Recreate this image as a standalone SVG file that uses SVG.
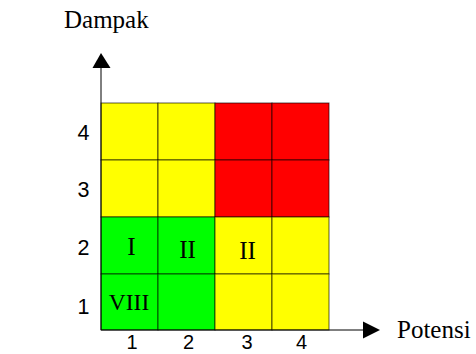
<svg xmlns="http://www.w3.org/2000/svg" width="476" height="354" viewBox="0 0 476 354">
<style>
.y{fill:#ffff00}.r{fill:#ff0000}.g{fill:#00ff00}
.cell{stroke:#000;stroke-opacity:0.65;stroke-width:1}
.ser{font-family:"Liberation Serif","Times New Roman",serif;fill:#000}
.san{font-family:"Liberation Sans",Arial,sans-serif;font-size:21.5px;fill:#000;text-anchor:middle}
.ax{stroke:#000;stroke-width:1;fill:none}
</style>
<rect width="476" height="354" fill="#fff"/>
<g id="matrix">
<rect class="cell y" x="101" y="103" width="57" height="57"/>
<rect class="cell y" x="158" y="103" width="57" height="57"/>
<rect class="cell r" x="215" y="103" width="57" height="57"/>
<rect class="cell r" x="272" y="103" width="57" height="57"/>
<rect class="cell y" x="101" y="160" width="57" height="57"/>
<rect class="cell y" x="158" y="160" width="57" height="57"/>
<rect class="cell r" x="215" y="160" width="57" height="57"/>
<rect class="cell r" x="272" y="160" width="57" height="57"/>
<rect class="cell g" x="101" y="217" width="57" height="57"/>
<rect class="cell g" x="158" y="217" width="57" height="57"/>
<rect class="cell y" x="215" y="217" width="57" height="57"/>
<rect class="cell y" x="272" y="217" width="57" height="57"/>
<rect class="cell g" x="101" y="274" width="57" height="56"/>
<rect class="cell g" x="158" y="274" width="57" height="56"/>
<rect class="cell y" x="215" y="274" width="57" height="56"/>
<rect class="cell y" x="272" y="274" width="57" height="56"/>
</g>
<g id="cell-labels" class="ser" font-size="25" text-anchor="middle">
<text x="131.5" y="254.5">I</text>
<text x="187.5" y="257.5">II</text>
<text x="247.5" y="258.5">II</text>
<text x="129" y="309.5" font-size="23.5">VIII</text>
</g>
<g id="connectors">
<line class="ax" x1="101" y1="67" x2="101" y2="330"/>
<polygon points="101,53 92.5,68 110.5,68" fill="#000"/>
<line class="ax" x1="101" y1="330" x2="364" y2="330"/>
<polygon points="380,330 363,321.5 363,338.5" fill="#000"/>
</g>
<g id="axis-y-label"><text class="ser" font-size="25" x="64" y="28">Dampak</text></g>
<g id="axis-x-label"><text class="ser" font-size="25" x="397" y="338">Potensi</text></g>
<g id="y-ticks" class="san">
<text x="83.5" y="140">4</text>
<text x="83.5" y="197">3</text>
<text x="83.5" y="255">2</text>
<text x="83.5" y="314">1</text>
</g>
<g id="x-ticks" class="san" style="font-size:20px">
<text x="132" y="348.5">1</text>
<text x="188.5" y="348.5">2</text>
<text x="247" y="348.5">3</text>
<text x="301.5" y="348.5">4</text>
</g>
</svg>
